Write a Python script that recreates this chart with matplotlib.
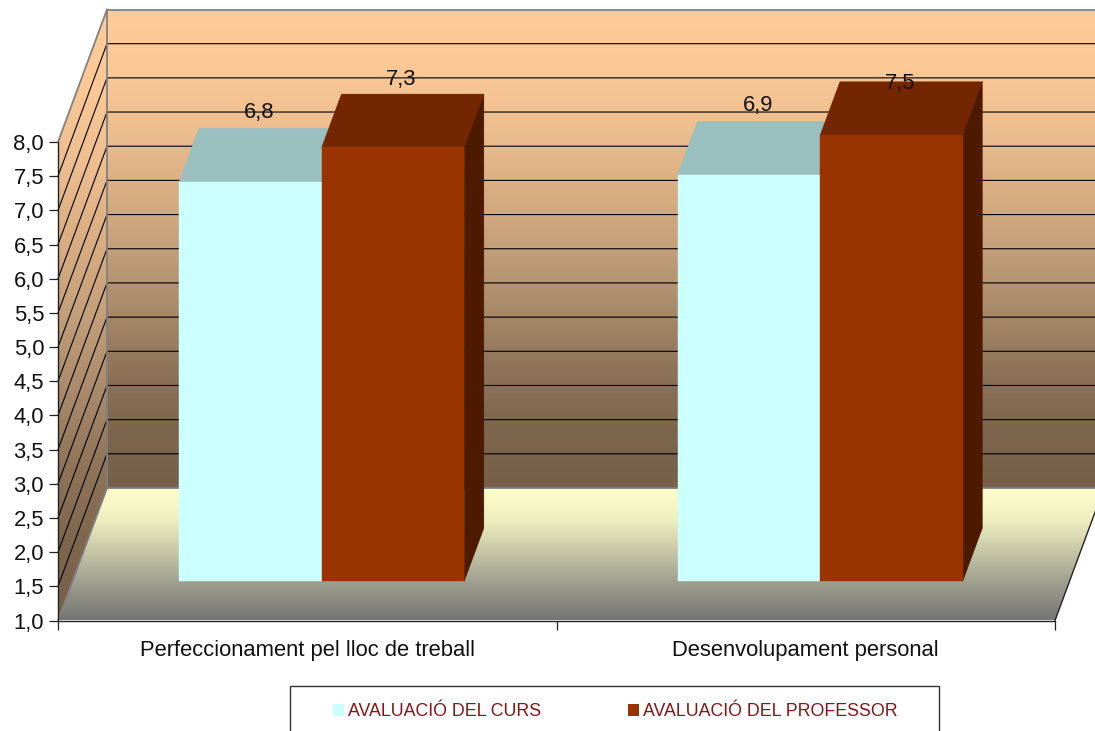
import numpy as np
import matplotlib
matplotlib.use("Agg")
import matplotlib.pyplot as plt
from matplotlib.colors import to_rgb, LinearSegmentedColormap
from matplotlib.patches import Polygon, Rectangle

plt.rcParams['font.family'] = ['Liberation Sans', 'DejaVu Sans']

categories = ["Perfeccionament pel lloc de treball", "Desenvolupament personal"]
series_names = ["AVALUACIÓ DEL CURS", "AVALUACIÓ DEL PROFESSOR"]
curs_values = [6.85, 6.95]
professor_values = [7.35, 7.53]
curs_labels = ["6,8", "6,9"]
professor_labels = ["7,3", "7,5"]
y_ticks = [1.0, 1.5, 2.0, 2.5, 3.0, 3.5, 4.0, 4.5, 5.0, 5.5, 6.0, 6.5, 7.0, 7.5, 8.0]

# style: pseudo-3D colours
FACE = ["#CCFFFF", "#993300"]
TOP = ["#99BFBF", "#732600"]
SIDE = ["#7A9999", "#4D1A00"]
WALL_COLOURS = ["#FFCC99", "#FBC896", "#EDBE90", "#DAAE82", "#C39F7A",
                "#A98A6B", "#8F7459", "#7E664E", "#76604A"]
FLOOR_COLOURS = ["#FFFFCC", "#EEEEC0", "#C4C4A6", "#9A9A8C", "#757575"]
BORDER = "#808080"
FS = 15.8

W, H = 1095, 731
X0, X2 = 58.0, 1055.0
Y1, Y8 = 620.5, 142.0
PX_PER_CAT = (X2 - X0) / 2
PX_PER_VAL = (Y1 - Y8) / 7
DEPTH_X, DEPTH_Y = 49.0, 132.5

fig = plt.figure(figsize=(W / 100, H / 100), dpi=100)
ax = fig.add_axes([0, 0, 1, 1])
xlim = (-X0 / PX_PER_CAT, (W - X0) / PX_PER_CAT)
ylim = (1 - (H - Y1) / PX_PER_VAL, 1 + Y1 / PX_PER_VAL)


def proj(x, v, d=0.0):
    """Category x, value v, depth d (0 front .. 1 back) to axes data coordinates."""
    return x + d * DEPTH_X / PX_PER_CAT, v + d * DEPTH_Y / PX_PER_VAL


def gradient(colours, v_top, v_bottom, clip_pts, z):
    cmap = LinearSegmentedColormap.from_list("g", [to_rgb(c) for c in colours])
    img = np.linspace(0, 1, 512)[:, None]
    poly = Polygon(clip_pts, closed=True, transform=ax.transData, fc="none", ec="none")
    ax.add_patch(poly)
    im = ax.imshow(img, cmap=cmap, vmin=0, vmax=1,
                   extent=(xlim[0], xlim[1], v_bottom, v_top), aspect="auto",
                   interpolation="bilinear", zorder=z)
    im.set_clip_path(poly)


# Walls and floor
_, v_back_top = proj(0, 8, 1)
back = [proj(0, 1, 1), proj(0, 8, 1), proj(2, 8, 1), proj(2, 1, 1)]
gradient(WALL_COLOURS, v_back_top, proj(0, 1, 1)[1], back, 1)
left = [proj(0, 1, 0), proj(0, 8, 0), proj(0, 8, 1), proj(0, 1, 1)]
gradient(WALL_COLOURS, v_back_top, 1, left, 1)
floor = [proj(0, 1, 0), proj(2, 1, 0), proj(2, 1, 1), proj(0, 1, 1)]
gradient(FLOOR_COLOURS, proj(0, 1, 1)[1], 1, floor, 1)

# Gridlines
for v in y_ticks[1:-1]:
    xs, ys = zip(proj(0, v, 0), proj(0, v, 1), proj(2, v, 1))
    ax.plot(xs, ys, color="black", lw=0.8, zorder=2, solid_joinstyle="miter")

# Wall borders
for a, b in [(proj(0, 8, 0), proj(0, 8, 1)), (proj(0, 8, 1), proj(2, 8, 1)),
             (proj(0, 8, 1), proj(0, 1, 1)), (proj(0, 1, 1), proj(0, 1, 0)),
             (proj(0, 1, 1), proj(2, 1, 1))]:
    ax.plot([a[0], b[0]], [a[1], b[1]], color=BORDER, lw=1.3, zorder=2.5)
fr, bk = proj(2, 1, 0), proj(2, 1, 1)
ax.plot([fr[0], bk[0]], [fr[1], bk[1]], color="#222222", lw=1.0, zorder=2.5)

# Bars
BAR_W = 0.2858
D0, D1 = 0.295, 0.697
LABEL_DX_PT = 6.2
LABEL_DY_PT = [[50, 50], [48.5, 37]]


def bar(x, val, k):
    ax.add_patch(Polygon([proj(x, val, D0), proj(x + BAR_W, val, D0),
                          proj(x + BAR_W, val, D1), proj(x, val, D1)],
                         fc=TOP[k], ec=TOP[k], lw=0.3, zorder=3 + k))
    ax.add_patch(Polygon([proj(x + BAR_W, 1, D0), proj(x + BAR_W, val, D0),
                          proj(x + BAR_W, val, D1), proj(x + BAR_W, 1, D1)],
                         fc=SIDE[k], ec=SIDE[k], lw=0.3, zorder=3 + k))
    ax.add_patch(Polygon([proj(x, 1.01, D0), proj(x + BAR_W, 1.01, D0),
                          proj(x + BAR_W, val, D0), proj(x, val, D0)],
                         fc=FACE[k], ec=FACE[k], lw=0.3, zorder=3.5 + k))


for i, cat in enumerate(categories):
    centre = i + 0.5
    for k, (vals, labs) in enumerate([(curs_values, curs_labels),
                                      (professor_values, professor_labels)]):
        x = centre - BAR_W + k * BAR_W
        bar(x, vals[i], k)
        ax.annotate(labs[i], xy=proj(x + BAR_W / 2, vals[i], D0),
                    xytext=(LABEL_DX_PT, LABEL_DY_PT[k][i]), textcoords="offset points",
                    ha="center", va="center", fontsize=FS, color="#111111", zorder=6)

# Axes through the library's scales
ax.set_xlim(*xlim)
ax.set_ylim(*ylim)
ax.patch.set_visible(False)
for s in ("top", "right"):
    ax.spines[s].set_visible(False)
ax.spines["left"].set_position(("data", 0))
ax.spines["left"].set_bounds(1, 8)
ax.spines["bottom"].set_position(("data", 1))
ax.spines["bottom"].set_bounds(0, 2)
for s in ("left", "bottom"):
    ax.spines[s].set_linewidth(1.0)
    ax.spines[s].set_color("#222222")
    ax.spines[s].set_zorder(7)
ax.set_yticks(y_ticks)
ax.set_yticklabels([f"{v:.1f}".replace(".", ",") for v in y_ticks])
ax.set_xticks([0, 1, 2])
ax.set_xticklabels([])
ax.set_xticks([0.5, 1.5], minor=True)
ax.set_xticklabels(categories, minor=True)
ax.tick_params(axis="y", direction="out", length=6.5, width=0.9, pad=3.5,
               labelsize=FS, color="#222222", labelcolor="#111111")
ax.tick_params(axis="x", which="major", direction="out", length=6.5, width=0.9, color="#222222")
ax.tick_params(axis="x", which="minor", length=0, pad=14, labelsize=FS, labelcolor="#111111")

# Legend (its frame runs off the bottom of the figure)
fig.add_artist(Rectangle((290 / W, -0.02), 649 / W, (H - 686) / H + 0.02,
                         transform=fig.transFigure, fc="white", ec="#333333", lw=1.0))
handles = [Rectangle((0, 0), 1, 1, fc=FACE[0]), Rectangle((0, 0), 1, 1, fc=FACE[1])]
leg = fig.legend(handles, series_names, loc="center", ncols=2, frameon=False,
                 bbox_to_anchor=(615.5 / W, (H - 712) / H), fontsize=12.8,
                 handlelength=0.62, handleheight=0.62, handletextpad=0.22, columnspacing=4.9,
                 labelcolor="#851515", borderpad=0)
leg.set_zorder(10)

fig.savefig("out.png", dpi=100)
